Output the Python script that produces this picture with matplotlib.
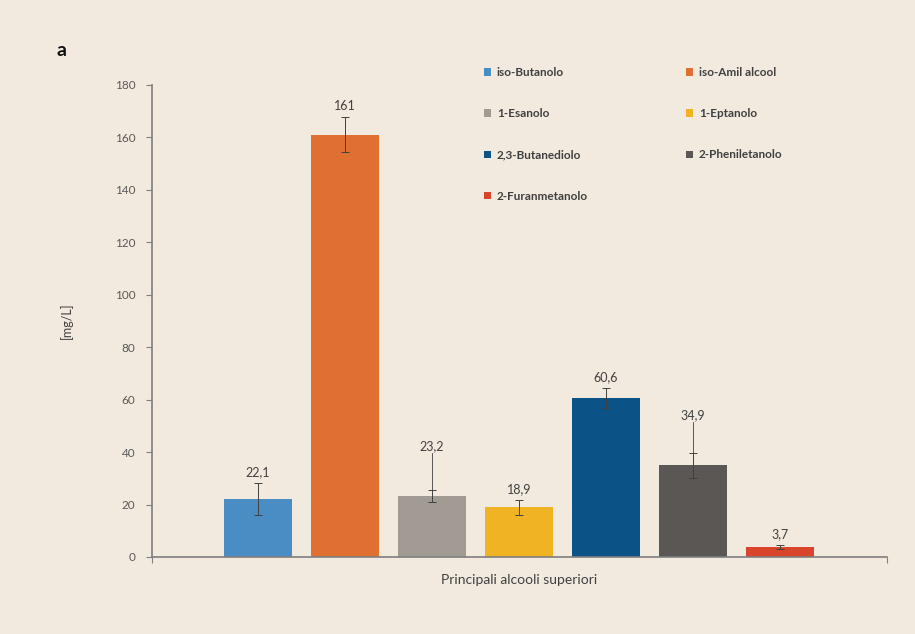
import matplotlib.pyplot as plt

names = ['iso-Butanolo', 'iso-Amil alcool', '1-Esanolo', '1-Eptanolo',
         '2,3-Butanediolo', '2-Pheniletanolo', '2-Furanmetanolo']
values = [22.1, 161, 23.2, 18.9, 60.6, 34.9, 3.7]
errors = [6.0, 6.7, 2.3, 2.9, 3.8, 4.6, 0.7]
labels = ['22,1', '161', '23,2', '18,9', '60,6', '34,9', '3,7']
colors = ['#4a8cc4', '#e07032', '#a19b93', '#f0b323', '#0b5286', '#5a5754', '#d9452a']
# labels for 1-Esanolo and 2-Pheniletanolo were pulled up with a leader line
lift = [0, 0, 12.5, 0, 0, 10.5, 0]

bg = '#f3eadf'
txt = '#595959'

plt.rcParams['font.family'] = ['Lato', 'DejaVu Sans']

fig = plt.figure(figsize=(9.15, 6.34), dpi=100)
fig.patch.set_facecolor(bg)
ax = fig.add_axes([0.1661, 0.1215, 0.8033, 0.7445])
ax.set_facecolor(bg)

xs = list(range(len(values)))
bars = ax.bar(xs, values, width=0.78, color=colors, zorder=2)
ax.errorbar(xs, values, yerr=errors, fmt='none', ecolor='#404040',
            elinewidth=0.7, capsize=3, capthick=0.7, zorder=3)

for x, v, e, l, lab in zip(xs, values, errors, lift, labels):
    top = v + e
    if l > 0:
        ax.plot([x, x], [top, top + l + 1.5], color='#404040', lw=0.6, zorder=3)
    ax.annotate(lab, (x, top + l), xytext=(0, 8), textcoords='offset points',
                ha='center', va='center', fontsize=9, color='#404040')

ax.set_xlim(-1.22, 7.23)
ax.set_ylim(0, 180)
ax.set_yticks(range(0, 181, 20))
ax.set_xticks([-1.22, 7.23])
ax.set_xticklabels(['', ''])
ax.tick_params(axis='y', direction='out', length=4, width=0.8, color='#7f7f7f',
               labelsize=8.5, labelcolor=txt, pad=8)
ax.tick_params(axis='x', direction='out', length=4, width=0.8, color='#7f7f7f')
for s in ['top', 'right']:
    ax.spines[s].set_visible(False)
for s in ['left', 'bottom']:
    ax.spines[s].set_color('#7f7f7f')
    ax.spines[s].set_linewidth(1.2)

ax.set_ylabel('[mg/L]', fontsize=9, color='#404040', labelpad=30)
ax.set_xlabel('Principali alcooli superiori', fontsize=10, color='#404040', labelpad=5)

# legend reads row by row in the reference
order = [0, 2, 4, 6, 1, 3, 5]
leg = ax.legend([bars[i] for i in order], [names[i] for i in order],
                loc='upper left', bbox_to_anchor=(0.437, 1.06), ncol=2,
                frameon=False, fontsize=8.5, handlelength=0.6, handleheight=0.6,
                handletextpad=0.5, columnspacing=8.3, labelspacing=2.55)
for t in leg.get_texts():
    t.set_color('#404040')
    t.set_fontweight('bold')

fig.text(0.062, 0.912, 'a', fontsize=14, fontweight='bold', color='#111111')

fig.savefig('out.png', dpi=100, facecolor=bg)
